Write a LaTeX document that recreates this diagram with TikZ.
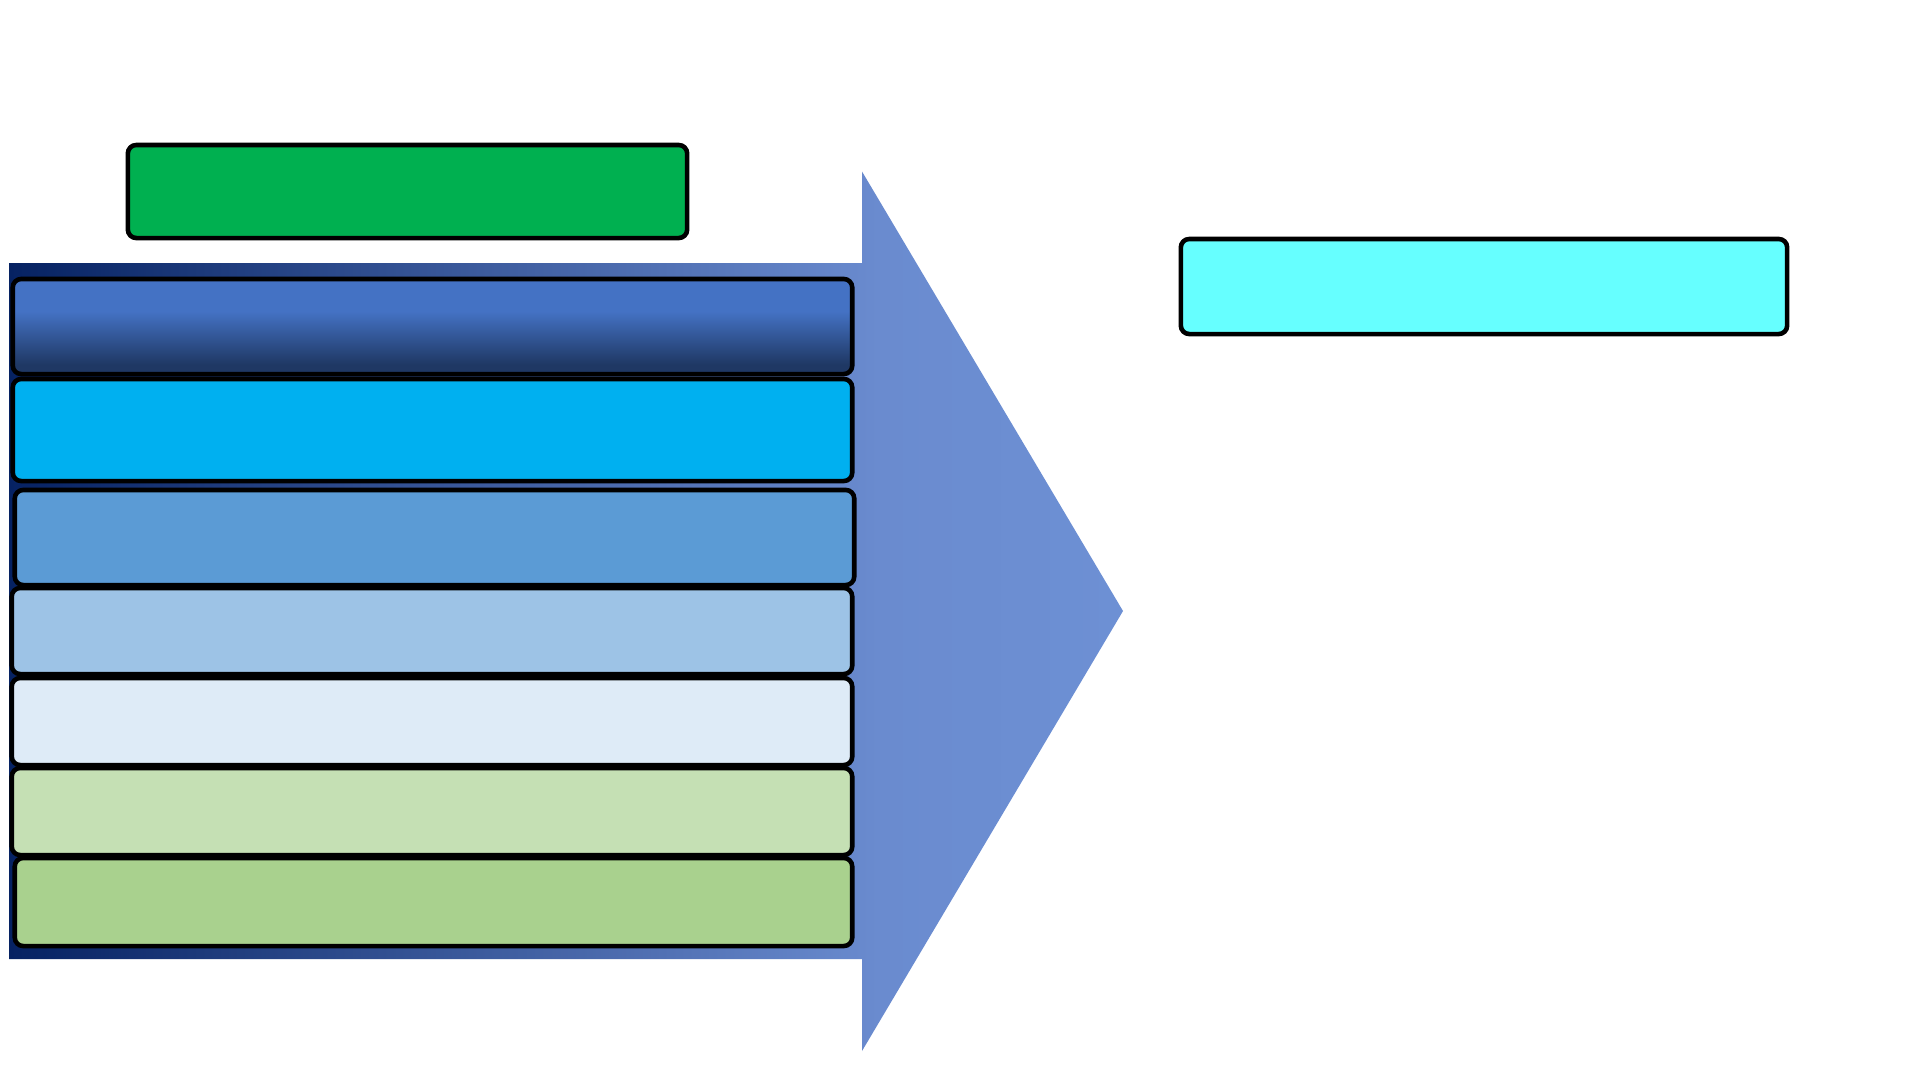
\documentclass[tikz,border=0pt]{standalone}
\definecolor{navyA}{HTML}{062262}
\definecolor{lightA}{HTML}{6A8BCF}
\definecolor{lightB}{HTML}{6D90D4}
\definecolor{topBlue}{HTML}{4472C4}
\definecolor{botBlue}{HTML}{1F3864}
\definecolor{cyanBar}{HTML}{00B0F0}
\definecolor{midBar}{HTML}{5B9BD5}
\definecolor{lightBar}{HTML}{9DC3E6}
\definecolor{paleBar}{HTML}{DEEBF7}
\definecolor{paleGreen}{HTML}{C5E0B4}
\definecolor{midGreen}{HTML}{A9D18E}
\definecolor{headGreen}{HTML}{00B050}
\definecolor{aquaBox}{HTML}{66FFFF}
\pgfdeclarehorizontalshading{arrowshade}{100bp}{color(0bp)=(navyA); color(25bp)=(navyA); color(64bp)=(lightA); color(75bp)=(lightB); color(100bp)=(lightB)}
\pgfdeclareverticalshading{topbarshade}{100bp}{color(0bp)=(botBlue); color(30bp)=(botBlue); color(58bp)=(topBlue); color(100bp)=(topBlue)}
\tikzset{
  bar/.style={draw=black, line width=1.3pt, rounded corners=2.4pt, inner sep=0pt, outer sep=0pt, shape=rectangle},
}
\begin{document}
\begin{tikzpicture}[x=0.01cm, y=-0.01cm]
\useasboundingbox[fill=white] (0,0) rectangle (1921,1081);
% big arrow
\shade[shading=arrowshade] (9,263) -- (862,263) -- (862,171.5) -- (1123,611) -- (862,1051) -- (862,959) -- (9,959) -- cycle;
% header boxes
\node[bar, fill=headGreen, minimum width=5.59cm, minimum height=0.93cm] (head) at (407.5,191.5) {};
\node[bar, fill=aquaBox, minimum width=6.06cm, minimum height=0.95cm] (result) at (1484,286.5) {};
% stacked bars
\node[bar, shading=topbarshade, minimum width=8.39cm, minimum height=0.95cm] (b1) at (432.5,326.5) {};
\node[bar, fill=cyanBar, minimum width=8.39cm, minimum height=1.02cm] (b2) at (432.5,430) {};
\node[bar, fill=midBar, minimum width=8.39cm, minimum height=0.95cm] (b3) at (434.5,537.5) {};
\node[bar, fill=lightBar, minimum width=8.40cm, minimum height=0.86cm] (b4) at (432,631) {};
\node[bar, fill=paleBar, minimum width=8.40cm, minimum height=0.87cm] (b5) at (432,721.5) {};
\node[bar, fill=paleGreen, minimum width=8.40cm, minimum height=0.87cm] (b6) at (432,811.5) {};
\node[bar, fill=midGreen, minimum width=8.37cm, minimum height=0.88cm] (b7) at (433.5,902) {};
\end{tikzpicture}
\end{document}
